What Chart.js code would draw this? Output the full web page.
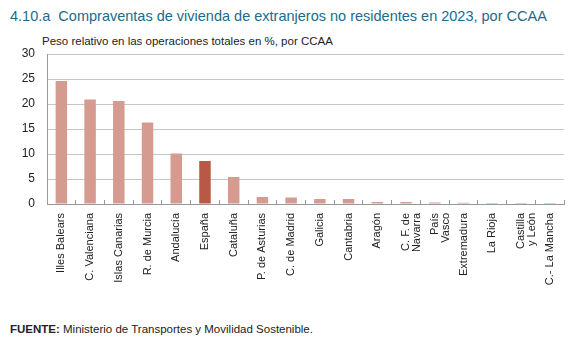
<!DOCTYPE html>
<html>
<head>
<meta charset="utf-8">
<script src="https://cdn.jsdelivr.net/npm/chart.js@4"></script>
<style>
  body { margin: 0; background: #fff; font-family: "Liberation Sans", Arial, sans-serif; }
  .wrap { position: relative; width: 584px; height: 347px; }
  .title { position: absolute; left: 10px; top: 8px; font-size: 14.5px; color: #1e6a8a; white-space: nowrap; }
  .subtitle { position: absolute; left: 42px; top: 35px; font-size: 11.5px; color: #222; white-space: nowrap; }
  .source { position: absolute; left: 10px; top: 323px; font-size: 11.5px; color: #222; white-space: nowrap; }
  #ccaaChart { position: absolute; left: 0; top: 0; }
</style>
</head>
<body>
<div class="wrap">
  <div class="title">4.10.a&nbsp; Compraventas de vivienda de extranjeros no residentes en 2023, por CCAA</div>
  <div class="subtitle">Peso relativo en las operaciones totales en %, por CCAA</div>
  <canvas id="ccaaChart" width="584" height="310"></canvas>
  <div class="source"><b>FUENTE:</b> Ministerio de Transportes y Movilidad Sostenible.</div>
</div>
<script>
  var regions = ["Illes Balears", "C. Valenciana", "Islas Canarias", "R. de Murcia", "Andalucía", "España",
    "Cataluña", "P. de Asturias", "C. de Madrid", "Galicia", "Cantabria", "Aragón",
    ["C. F. de", "Navarra"], ["País", "Vasco"], "Extremadura", "La Rioja", ["Castilla", "y León"], "C.- La Mancha"];
  var shares = [24.6, 20.9, 20.6, 16.3, 10.1, 8.6, 5.4, 1.4, 1.3, 1.0, 1.0, 0.4, 0.4, 0.3, 0.25, 0.2, 0.2, 0.2];
  var yTicks = [0, 5, 10, 15, 20, 25, 30];

  var barColor = "#d59b91";
  var spainColor = "#b95846";

  const ctx = document.getElementById('ccaaChart').getContext('2d');

  new Chart(ctx, {
    type: 'bar',
    data: {
      labels: regions,
      datasets: [{
        data: shares,
        backgroundColor: regions.map(r => r === "España" ? spainColor : barColor),
        barPercentage: 0.4,
        categoryPercentage: 1
      }]
    },
    options: {
      responsive: false,
      animation: false,
      devicePixelRatio: 1,
      layout: { padding: { top: 54, right: 20, left: 0, bottom: 0 } },
      plugins: { legend: { display: false }, tooltip: { enabled: false } },
      scales: {
        x: {
          // short tick marks between categories, pointing up into the plot
          grid: { drawOnChartArea: false, tickLength: -4, color: '#999', tickWidth: 1 },
          border: { color: '#999' },
          ticks: {
            autoSkip: false, maxRotation: 90, minRotation: 90, padding: 13,
            color: '#222', font: { family: 'Liberation Sans', size: 11, lineHeight: 0.98 }
          },
          afterFit: function (scale) { scale.height = 106; }
        },
        y: {
          min: 0, max: 30,
          afterBuildTicks: function (scale) { scale.ticks = yTicks.map(v => ({ value: v })); },
          grid: { color: '#c6c6c6', drawTicks: false },
          border: { color: '#999' },
          ticks: { padding: 12, color: '#222', font: { family: 'Liberation Sans', size: 12 } },
          afterFit: function (scale) { scale.width = 47; }
        }
      }
    }
  });
</script>
</body>
</html>
